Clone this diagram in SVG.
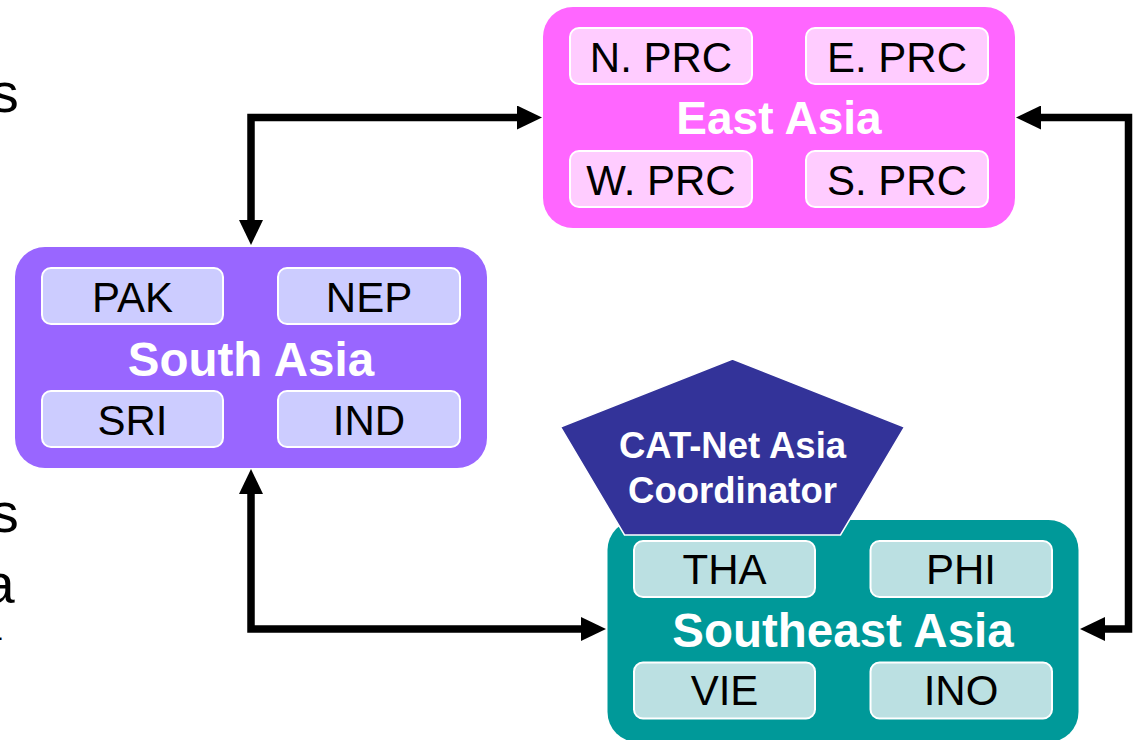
<svg xmlns="http://www.w3.org/2000/svg" width="1134" height="740" viewBox="0 0 1134 740">
<style>
.sub{font-family:"Liberation Sans",Arial,sans-serif;font-size:42px;fill:#000;text-anchor:middle}
.title{font-family:"Liberation Sans",Arial,sans-serif;font-size:47.5px;font-weight:bold;fill:#fff;text-anchor:middle}
.coord{font-family:"Liberation Sans",Arial,sans-serif;font-size:36.5px;font-weight:bold;fill:#fff;text-anchor:middle}
.frag{font-family:"Liberation Sans",Arial,sans-serif;font-size:56px;fill:#000;text-anchor:end}
.ib{stroke:#fff;stroke-width:2}
.conn{fill:none;stroke:#000;stroke-width:7.5;stroke-linejoin:miter;stroke-linecap:butt}
</style>
<defs>
<marker id="ah" markerUnits="userSpaceOnUse" markerWidth="25" markerHeight="24" viewBox="-1 -12 25 24" refX="0" refY="0" orient="auto-start-reverse">
<path d="M-1,-12 L24,0 L-1,12 Z" fill="#000"/>
</marker>
</defs>
<rect width="1134" height="740" fill="#fff"/>
<g id="edge-text">
<text class="frag" x="18.7" y="112">s</text>
<text class="frag" x="18.7" y="532">s</text>
<text class="frag" x="14.7" y="603">a</text>
<text class="frag" x="3" y="647" style="font-size:32px">-</text>
</g>
<g id="connectors">
<path class="conn" d="M251 221 V117.5 H518" marker-start="url(#ah)" marker-end="url(#ah)"/>
<path class="conn" d="M251 493 V629 H582" marker-start="url(#ah)" marker-end="url(#ah)"/>
<path class="conn" d="M1040 117.5 H1128.5 V629 H1104" marker-start="url(#ah)" marker-end="url(#ah)"/>
</g>
<g id="east-asia">
<rect x="543" y="7" width="472" height="221" rx="30" fill="#FF66FF"/>
<rect class="ib" x="570" y="28" width="182" height="56" rx="9" fill="#FFCCFF"/>
<rect class="ib" x="806" y="28" width="182" height="56" rx="9" fill="#FFCCFF"/>
<rect class="ib" x="570" y="151" width="182" height="56" rx="9" fill="#FFCCFF"/>
<rect class="ib" x="806" y="151" width="182" height="56" rx="9" fill="#FFCCFF"/>
<text class="sub" x="661" y="72">N. PRC</text>
<text class="sub" x="897" y="72">E. PRC</text>
<text class="sub" x="661" y="195">W. PRC</text>
<text class="sub" x="897" y="195">S. PRC</text>
<text class="title" x="779" y="134" style="font-size:46px">East Asia</text>
</g>
<g id="south-asia">
<rect x="15" y="247" width="472" height="221" rx="30" fill="#9966FF"/>
<rect class="ib" x="42" y="268" width="181" height="56" rx="9" fill="#CCCCFF"/>
<rect class="ib" x="278" y="268" width="182" height="56" rx="9" fill="#CCCCFF"/>
<rect class="ib" x="42" y="391" width="181" height="56" rx="9" fill="#CCCCFF"/>
<rect class="ib" x="278" y="391" width="182" height="56" rx="9" fill="#CCCCFF"/>
<text class="sub" x="132.5" y="312">PAK</text>
<text class="sub" x="369" y="312">NEP</text>
<text class="sub" x="132.5" y="435">SRI</text>
<text class="sub" x="369" y="435">IND</text>
<text class="title" x="251" y="376">South Asia</text>
</g>
<g id="southeast-asia">
<rect x="607.5" y="520" width="471" height="222" rx="30" fill="#009999"/>
<rect class="ib" x="634" y="541" width="181" height="56" rx="9" fill="#BBE0E2"/>
<rect class="ib" x="870.5" y="541" width="181.5" height="56" rx="9" fill="#BBE0E2"/>
<rect class="ib" x="634" y="662.5" width="181" height="56" rx="9" fill="#BBE0E2"/>
<rect class="ib" x="870.5" y="662.5" width="181.5" height="56" rx="9" fill="#BBE0E2"/>
<text class="sub" x="724.5" y="584">THA</text>
<text class="sub" x="961" y="584">PHI</text>
<text class="sub" x="724.5" y="705">VIE</text>
<text class="sub" x="961" y="705">INO</text>
<text class="title" x="843" y="647">Southeast Asia</text>
</g>
<g id="coordinator">
<polygon points="732.5,359 904.6,427 840.5,535 624.5,535 560.4,427" fill="#333399" stroke="#fff" stroke-width="1.5"/>
<text class="coord" x="732.5" y="458">CAT-Net Asia</text>
<text class="coord" x="732.5" y="503">Coordinator</text>
</g>
</svg>
